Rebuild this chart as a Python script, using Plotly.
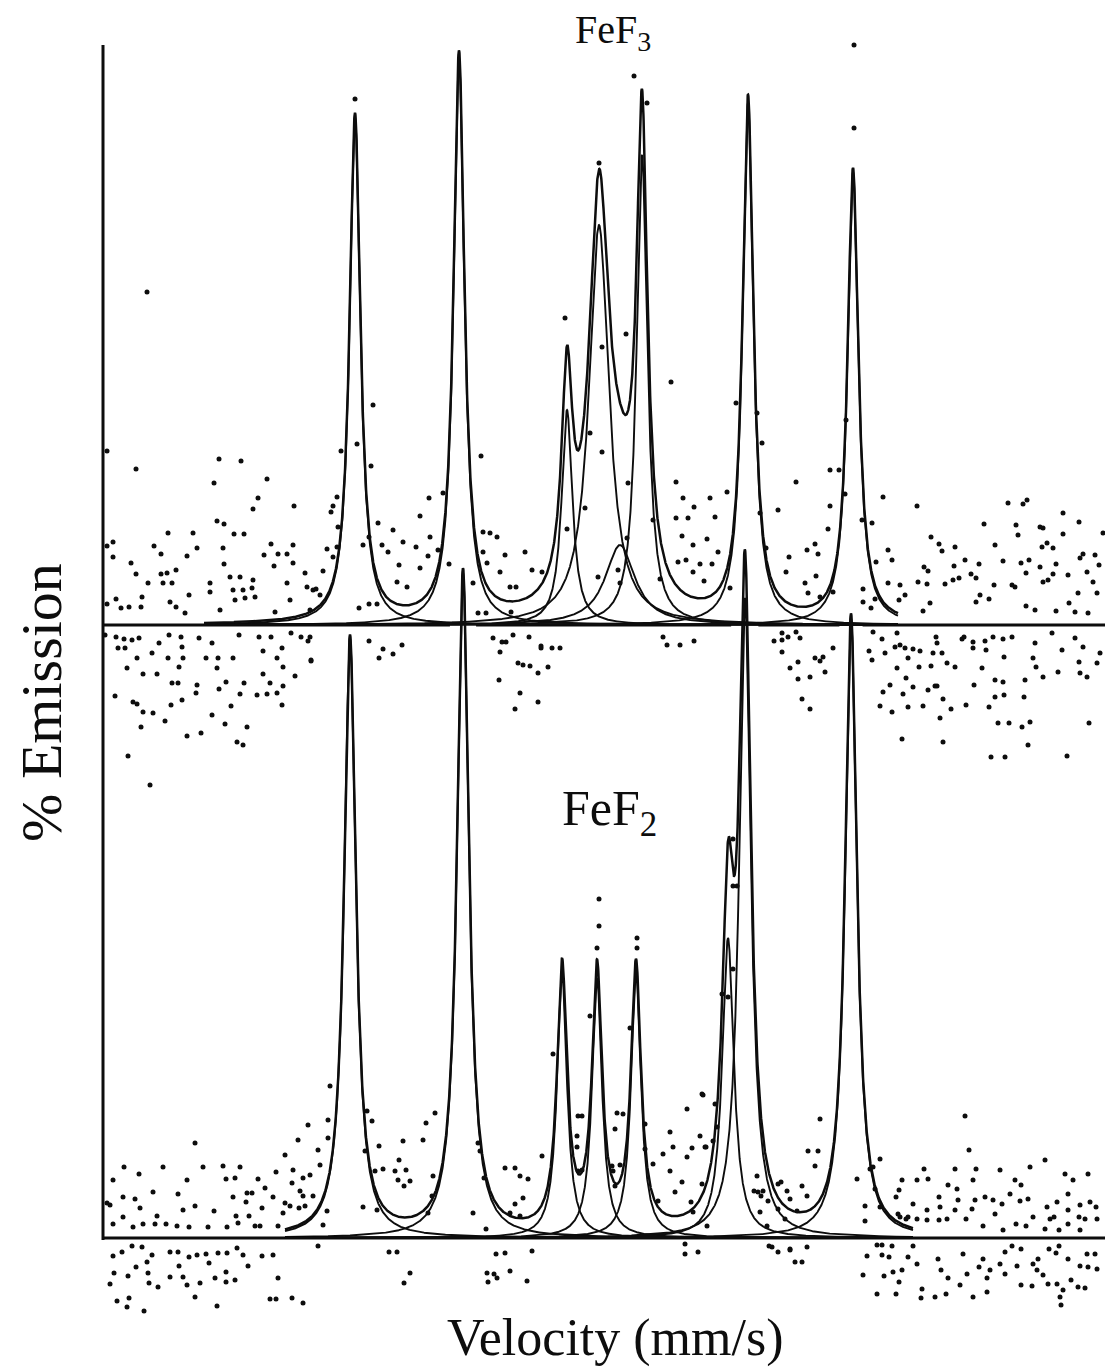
import numpy as np
import plotly.graph_objects as go

# ---------------------------------------------------------------------------
# Fitted Lorentzian lines: position (mm/s), amplitude (% emission), HWHM (mm/s)
# ---------------------------------------------------------------------------
fef3_pos = [-9.96, -5.80, -1.48, -0.20, 0.64, 1.52, 5.76, 9.96]
fef3_amp = [5.08, 5.67, 2.15, 4.00, 0.80, 4.70, 5.22, 4.53]
fef3_hwhm = [0.26, 0.26, 0.26, 0.48, 0.72, 0.26, 0.26, 0.26]
fef3_fit_range = [-16.0, 11.76]

fef2_pos = [-10.16, -5.64, -1.68, -0.28, 1.28, 4.96, 5.64, 9.88]
fef2_amp = [6.00, 6.65, 2.65, 2.60, 2.65, 3.00, 6.40, 6.20]
fef2_hwhm = [0.28, 0.28, 0.24, 0.24, 0.24, 0.28, 0.28, 0.28]
fef2_fit_range = [-12.76, 12.36]

# vertical offset of the FeF3 spectrum above the FeF2 one (% emission)
fef3_offset = 6.13

# ---------------------------------------------------------------------------
# Measured points (velocity mm/s, emission % relative to each baseline)
# ---------------------------------------------------------------------------
fef3_dot_v = [
    -19.88, -18.72, -15.40, -14.52, -15.60, -13.48, -13.84, -14.04, -12.40, -15.48,
    -15.20, -14.80, -14.40, -17.44, -16.44, -19.64, -19.88, -18.00, -16.28, -15.24,
    -13.32, -12.44, -17.72, -16.68, -13.60, -13.04, -12.68, -19.64, -18.92, -15.20,
    -13.20, -12.44, -18.72, -17.72, -17.48, -17.12, -17.64, -17.28, -18.24, -15.76,
    -14.96, -14.56, -14.04, -12.68, -11.88, -15.76, -14.84, -14.44, -14.08, -16.60,
    -18.48, -14.76, -14.36, -13.96, -12.56, -19.52, -19.88, -19.32, -19.00, -18.52,
    -17.36, -17.12, -16.76, -15.36, -13.16,
    -19.96, -19.52, -19.20, -18.88, -18.60, -17.80, -17.40, -16.92, -16.20, -15.68,
    -14.60, -13.80, -13.32, -12.52, -12.12, -11.84, -19.44, -19.16, -18.68, -18.08,
    -17.44, -16.88, -16.84, -15.92, -15.44, -14.84, -13.64, -12.88, -13.08, -11.72,
    -19.08, -18.44, -17.88, -17.00, -15.48, -13.64, -12.36, -12.84, -17.28, -17.04,
    -16.28, -15.12, -14.40, -13.36, -12.84, -15.40, -14.56, -13.88, -13.48, -13.08,
    -16.32, -19.56, -18.84, -18.68, -17.32, -16.88, -14.92, -12.88, -18.44, -18.04,
    -15.68, -17.56, -18.52, -15.16, -14.28, -16.12, -16.68, -14.68, -14.44, -19.04,
    -10.52, -10.68, -10.84, -10.92, -10.64, -10.68, -11.08, -10.84, -11.64, -11.36,
    -11.76, -9.88, -9.32, -9.40, -9.64, -9.04, -8.44, -8.88, -8.64, -8.04,
    -7.52, -7.36, -7.00, -8.20, -7.36, -8.28, -7.88, -6.96, -7.04, -6.64,
    -9.40, -9.08, -9.80, -6.44, -6.20, -4.92, -4.84, -4.56, -4.28, -4.84,
    -4.68, -5.04, -4.72,
    -9.40, -8.84, -8.44, -8.08, -9.00, -11.76, -11.72,
    -11.96, -11.52, -11.24,
    -5.24, -3.96, -3.16, -4.16, -3.76, -3.52, -2.88, -2.48, -3.72,
    -4.44, -4.08, -3.92, -3.64, -3.00, -2.52, -4.16, -3.44, -3.24, -2.96,
    -2.24, -2.64, -4.20, -3.36, -2.64, -3.56,
    1.20, 1.72, -0.20, -1.56, -0.08, 0.88, -0.56, -0.76, 2.68, 2.88,
    3.16, 3.60, 4.24, 2.88, 3.36, 3.12, 3.56, 4.12, 3.28, 3.84,
    4.32, 2.96, 3.56, 4.00, 1.96, 2.24, -1.48, 0.56, 0.64, -0.24,
    0.92, 0.96, -0.08,
    -2.52, -2.08, -1.76, 2.36, 2.52, 3.04, 3.60,
    6.32, 7.68, 6.96, 4.92, 4.44, 4.56, 5.04, 8.12, 8.44, 8.56,
    7.40, 7.28, 8.04, 8.48, 8.16, 9.16, 9.04, 8.96, 8.64, 9.64,
    11.16, 10.72, 11.36, 11.52, 10.88, 10.36, 10.36, 10.68, 10.84, 11.36,
    11.84, 11.80, 12.04, 12.52, 13.08, 13.40, 13.52, 12.80, 12.96, 12.56,
    12.92, 13.64, 13.04, 12.76, 14.04, 14.44, 14.20, 14.00, 15.00, 14.68,
    14.88, 15.20, 15.04, 15.40, 15.64, 15.60, 15.96, 16.32, 16.48, 16.56,
    16.76, 16.92, 16.16, 16.44, 16.68, 17.00, 16.88, 17.44, 17.56, 17.72,
    17.52, 17.96, 18.36, 18.36, 18.08, 17.44, 17.56, 17.76, 17.96, 18.56,
    19.00, 19.16, 19.04, 18.96, 19.32, 19.64, 19.80, 19.96, 19.56, 19.72,
    18.60, 18.84, 19.36, 18.08, 17.24, 16.88, 14.88, 13.96,
    6.80, 7.12, 7.12, 7.36, 7.68, 7.84, 7.12, 9.16, 7.44, 7.76,
    7.76, 8.24, 8.44, 8.64, 8.76, 8.84, 7.92, 8.24, 10.76, 11.12,
    10.60, 10.72, 11.24, 11.72, 11.84, 11.64, 12.04, 12.36, 11.72, 12.16,
    12.64, 12.60, 13.08, 13.28, 13.32, 13.24, 13.72, 14.04, 13.16, 13.52,
    14.32, 14.40, 14.76, 15.24, 15.56, 15.96, 16.32, 14.76, 15.28, 16.00,
    17.24, 17.92, 18.32, 18.84, 19.16, 19.84, 19.72, 19.00, 18.16, 17.56,
    17.16, 17.28, 16.84, 16.80, 15.64, 15.96, 15.12, 14.80, 14.48, 13.88,
    13.44, 13.32, 12.76, 12.16, 11.96, 12.36, 12.96, 11.52, 11.16, 11.44,
    11.04, 12.08, 13.56, 15.40, 15.64, 16.00, 15.76, 16.20, 16.72, 17.04,
    16.96, 19.40, 19.04, 19.32, 18.52, 15.48, 16.04, 13.56, 11.92,
    -18.28, -18.16, 10.00, -9.96, 10.00, 5.28, 6.12, 6.24, 9.04, 9.40,
    9.68, 10.32, 6.48, -9.24,
]
fef3_dot_y = [
    1.74, 1.56, 1.66, 1.64, 1.42, 1.46, 1.27, 1.16, 1.19, 1.04,
    1.01, 0.91, 0.91, 0.92, 0.92, 0.83, 0.79, 0.79, 0.77, 0.77,
    0.81, 0.80, 0.71, 0.69, 0.70, 0.71, 0.71, 0.68, 0.62, 0.61,
    0.59, 0.62, 0.51, 0.51, 0.52, 0.55, 0.42, 0.42, 0.42, 0.42,
    0.48, 0.48, 0.45, 0.42, 0.38, 0.33, 0.35, 0.35, 0.37, 0.30,
    0.28, 0.25, 0.27, 0.28, 0.25, 0.26, 0.21, 0.17, 0.18, 0.18,
    0.23, 0.18, 0.12, 0.15, 0.13,
    -0.10, -0.12, -0.14, -0.15, -0.13, -0.18, -0.10, -0.12, -0.13, -0.18,
    -0.10, -0.12, -0.12, -0.08, -0.12, -0.16, -0.23, -0.23, -0.33, -0.28,
    -0.33, -0.22, -0.33, -0.33, -0.33, -0.33, -0.26, -0.23, -0.33, -0.36,
    -0.43, -0.49, -0.49, -0.42, -0.43, -0.49, -0.51, -0.42, -0.58, -0.58,
    -0.60, -0.57, -0.58, -0.58, -0.61, -0.64, -0.69, -0.70, -0.69, -0.68,
    -0.68, -0.71, -0.77, -0.79, -0.80, -0.75, -0.81, -0.80, -0.87, -0.88,
    -0.90, -0.96, -1.02, -0.99, -1.02, -1.08, -1.11, -1.17, -1.20, -1.31,
    1.74, 1.28, 1.19, 1.13, 0.98, 0.78, 0.76, 0.68, 0.35, 0.30,
    0.15, 1.81, 1.59, 0.88, 0.80, 1.02, 0.95, 0.80, 0.73, 0.83,
    0.78, 1.09, 1.27, 0.60, 0.57, 0.43, 0.38, 0.88, 0.69, 0.75,
    0.21, 0.21, 0.17, 1.32, 0.61, 1.69, 0.93, 0.92, 0.88, 0.73,
    0.62, 0.12, 0.12,
    -0.16, -0.24, -0.29, -0.20, -0.33, -0.12, -0.35,
    0.52, 0.36, 0.54,
    0.42, 0.70, 0.73, 0.53, 0.38, 0.38, 0.55, 0.53, 0.13,
    -0.13, -0.17, -0.17, -0.10, -0.12, -0.21, -0.27, -0.38, -0.40, -0.41,
    -0.42, -0.48, -0.55, -0.68, -0.77, -0.84,
    5.49, 5.22, 4.62, 3.07, 2.78, 2.91, 1.92, 1.17, 2.43, 1.43,
    1.27, 1.18, 1.27, 1.07, 1.07, 0.89, 0.80, 0.86, 0.65, 0.61,
    0.61, 0.63, 0.53, 0.44, 1.05, 0.46, 0.96, 0.55, 0.42, 0.48,
    0.87, 1.42, 1.73,
    -0.23, -0.23, -0.23, -0.12, -0.20, -0.20, -0.16,
    1.82, 1.43, 1.15, 1.33, 1.08, 0.73, 0.37, 0.75, 0.81, 0.71,
    0.68, 0.53, 0.42, 0.49, 0.32, 0.33, 1.19, 0.96, 0.28, 1.31,
    1.28, 1.02, 0.75, 0.65, 0.63, 0.36, 0.23, 0.17, 0.26, 0.42,
    0.40, 0.25, 0.30, 1.19, 0.88, 0.81, 0.74, 0.58, 0.54, 0.43,
    0.41, 0.41, 0.22, 0.14, 0.78, 0.65, 0.47, 0.59, 0.61, 0.51,
    0.47, 1.01, 0.30, 0.26, 0.80, 0.40, 0.64, 0.40, 1.00, 0.90,
    1.21, 1.25, 1.22, 0.38, 0.62, 0.65, 0.52, 0.98, 0.97, 0.82,
    0.78, 0.77, 1.12, 0.91, 0.61, 0.58, 0.43, 0.45, 0.51, 0.50,
    1.03, 0.71, 0.67, 0.32, 0.53, 0.70, 0.60, 0.92, 0.43, 0.32,
    0.22, 0.13, 0.12, 0.14, 0.15, 0.19, 0.23, 0.45,
    -0.16, -0.15, -0.08, -0.12, -0.07, -0.13, -0.27, -0.23, -0.43, -0.37,
    -0.54, -0.52, -0.33, -0.36, -0.32, -0.47, -0.74, -0.84, -0.07, -0.14,
    -0.26, -0.35, -0.28, -0.08, -0.20, -0.22, -0.23, -0.24, -0.43, -0.33,
    -0.26, -0.42, -0.41, -0.12, -0.18, -0.61, -0.38, -0.42, -0.28, -0.28,
    -0.14, -0.12, -0.17, -0.16, -0.12, -0.14, -0.12, -0.23, -0.25, -0.32,
    -0.18, -0.08, -0.25, -0.13, -0.22, -0.28, -0.38, -0.37, -0.47, -0.52,
    -0.33, -0.42, -0.55, -0.72, -0.55, -0.57, -0.43, -0.60, -0.80, -0.84,
    -0.93, -0.61, -0.81, -0.82, -0.69, -0.62, -0.65, -0.87, -0.67, -0.60,
    -0.81, -0.53, -0.74, -0.82, -0.72, -0.70, -0.98, -0.98, -1.02, -0.97,
    -1.20, -0.98, -0.48, -0.52, -1.31, -1.32, -1.32, -1.17, -1.14,
    3.33, -1.60, 5.80, 5.26, 4.97, 2.22, 2.12, 1.12, 1.55, 1.55,
    2.05, 1.05, 0.77, 2.20,
]

fef2_dot_v = [
    -19.20, -19.64, -18.60, -17.64, -16.36, -16.04, -15.24, -14.56, -16.68, -15.12,
    -14.76, -19.24, -18.76, -18.04, -17.04, -18.56, -16.84, -16.36, -19.76, -15.60,
    -14.84, -14.28, -14.08, -14.32, -13.84, -13.56, -13.24, -13.12, -13.68, -14.72,
    -14.20, -13.96, -19.24, -19.64, -18.84, -18.44, -17.96, -17.88, -17.52, -17.08,
    -16.60, -15.84, -15.08, -14.64, -13.76, -19.88, -12.76, -12.24, -11.84, -12.44,
    -12.48, -12.04, -11.76, -12.76, -12.56, -12.16, -12.04, -12.84, -13.04, -12.20,
    -11.96, -11.36, -11.44, -11.64, -11.08, -11.24, -11.04, -10.96, -11.04, -9.48,
    -9.28, -9.00, -9.56, -8.84, -9.16, -8.36, -8.04, -7.24, -8.20, -7.92,
    -8.24, -7.76, -8.00, -9.64, -9.08, -7.04, -7.12, -6.76, -6.84, -6.88,
    -5.04, -4.96, -4.80, -5.24, -4.72,
    -19.64, -19.28, -18.88, -18.48, -18.08, -19.60, -19.04, -18.28, -18.72, -18.24,
    -19.76, -17.84, -18.20, -19.48, -19.00, -19.08, -18.40, -17.36, -17.04, -17.36,
    -16.84, -16.68, -16.28, -15.92, -15.80, -16.16, -15.56, -15.12, -15.12, -15.44,
    -15.08, -14.76, -14.68, -14.44, -14.24, -13.68, -13.24, -16.36, -15.48, -13.04,
    -13.36, -13.12, -12.48, -12.04, -16.60, -17.00, -11.44, -8.60, -8.28, -7.76,
    -8.00, -4.32, -4.40, -4.64,
    -0.20, -0.28, -0.20, 1.32, 1.32, -0.56, 1.04, -2.04, 5.16, 5.16,
    5.32, 5.16, 4.72, 4.96, 3.92, 3.32, 2.64, 2.76, 2.36, 3.52,
    3.84, 4.04, 3.32, 2.64, 3.12, 1.96, 2.16, 2.84, 3.48, 3.56,
    3.92, 4.12, 4.36, 4.52, 4.44, -3.96, -3.56, -3.36, -3.04, -3.24,
    -3.56, -3.76, -3.36, -2.48, -1.04, -0.88, -1.08, -1.08, 0.52, 0.44,
    0.76, 0.32, 0.64, 0.36, 0.44, -1.04, -0.88, 1.64, 1.64, 6.12,
    6.16, 6.36, 6.56, 6.96, 7.32, 7.44, 7.72, 6.96, 7.24,
    -3.96, -2.88, 3.24, 3.24, 3.76, 6.72, 6.96, 7.44, -4.68, -4.28,
    -3.76, -3.08,
    14.44, 14.60, 14.88, 14.04, 15.84, 17.04, 17.64, 18.44, 19.36, 12.80,
    12.96, 11.92, 12.52, 11.80, 11.68, 11.04, 10.64, 10.84, 10.44, 11.04,
    10.44, 11.84, 12.16, 12.52, 12.92, 13.40, 13.76, 14.12, 14.16, 13.44,
    13.72, 14.04, 14.48, 14.72, 14.76, 14.84, 15.24, 15.56, 15.16, 15.64,
    15.92, 15.96, 16.44, 16.68, 16.24, 16.64, 16.96, 16.48, 16.88, 17.16,
    17.72, 17.84, 18.00, 18.12, 17.64, 18.20, 18.56, 18.56, 18.76, 19.04,
    19.00, 18.56, 19.24, 19.44, 19.68, 19.04, 19.72, 13.40, 12.36, 12.92,
    11.76, 12.08, 10.12, 10.76, 3.96, 4.08, 7.08, 7.92, 8.16, 8.56,
    8.44, 8.64, 6.24, 6.00, 6.28, 8.12, 6.52,
    6.60, 7.44, 7.64, 7.92, 8.12, 10.52, 10.36, 10.92, 11.12, 11.52,
    11.12, 11.40, 11.20, 11.56, 11.92, 10.92, 11.68, 11.80, 12.36, 12.16,
    12.52, 12.72, 12.68, 13.24, 13.68, 13.36, 13.76, 14.24, 14.36, 14.52,
    14.76, 15.00, 15.16, 15.32, 15.32, 15.84, 16.04, 16.32, 16.68, 16.52,
    16.68, 17.12, 17.16, 17.32, 17.36, 17.56, 17.80, 18.20, 18.12, 17.76,
    18.36, 18.24, 18.28, 18.68, 18.96, 19.24, 19.32, 19.64, 19.36, 19.72,
    19.04, 18.56, 18.08, 16.04, 15.44, 13.48,
]
fef2_dot_y = [
    0.71, 0.58, 0.64, 0.71, 0.95, 0.71, 0.72, 0.71, 0.58, 0.59,
    0.60, 0.41, 0.39, 0.46, 0.44, 0.30, 0.28, 0.32, 0.33, 0.27,
    0.41, 0.45, 0.45, 0.36, 0.59, 0.50, 0.41, 0.66, 0.30, 0.22,
    0.22, 0.12, 0.21, 0.14, 0.11, 0.14, 0.14, 0.22, 0.14, 0.12,
    0.11, 0.11, 0.11, 0.15, 0.12, 0.35, 0.83, 0.98, 1.13, 0.68,
    0.55, 0.60, 0.63, 0.35, 0.32, 0.47, 0.42, 0.25, 0.12, 0.30,
    0.32, 0.73, 0.88, 0.42, 0.27, 0.13, 1.00, 1.52, 1.18, 1.27,
    1.17, 0.92, 0.87, 0.69, 0.67, 0.67, 0.97, 0.98, 0.78, 0.68,
    0.58, 0.57, 0.52, 0.31, 0.28, 0.25, 1.15, 1.25, 0.62, 0.42,
    0.95, 0.87, 0.60, 0.25, 0.09,
    -0.18, -0.14, -0.08, -0.09, -0.17, -0.35, -0.38, -0.24, -0.29, -0.35,
    -0.46, -0.49, -0.45, -0.63, -0.60, -0.69, -0.73, -0.14, -0.14, -0.39,
    -0.39, -0.47, -0.17, -0.16, -0.25, -0.45, -0.40, -0.34, -0.44, -0.15,
    -0.15, -0.42, -0.10, -0.17, -0.28, -0.18, -0.17, -0.59, -0.68, -0.40,
    -0.61, -0.61, -0.60, -0.65, -0.19, -0.28, -0.08, -0.14, -0.14, -0.35,
    -0.45, -0.16, -0.36, -0.44,
    3.39, 2.90, 3.12, 3.00, 2.90, 2.22, 2.10, 1.84, 3.99, 3.52,
    3.52, 2.69, 2.44, 2.41, 1.44, 1.29, 1.06, 0.91, 0.84, 0.90,
    1.02, 0.91, 0.81, 0.67, 0.56, 0.74, 0.37, 0.46, 0.36, 0.26,
    0.54, 0.12, 0.97, 1.11, 1.34, 0.70, 0.70, 0.62, 0.59, 0.40,
    0.34, 0.25, 0.22, 0.82, 1.22, 1.22, 1.02, 0.91, 1.25, 1.09,
    1.24, 0.72, 0.73, 0.67, 0.52, 0.67, 0.68, 0.89, 1.14, 0.62,
    0.46, 0.47, 0.37, 0.54, 0.47, 0.39, 0.27, 0.29, 0.19,
    -0.15, -0.13, -0.06, -0.16, -0.14, -0.09, -0.14, -0.11, -0.35, -0.40,
    -0.33, -0.43,
    1.22, 0.88, 0.69, 0.69, 0.68, 0.71, 0.78, 0.64, 0.64, 0.69,
    0.59, 0.58, 0.58, 0.48, 0.41, 0.79, 0.69, 0.49, 0.32, 0.31,
    0.17, 0.21, 0.21, 0.19, 0.28, 0.41, 0.53, 0.49, 0.38, 0.31,
    0.19, 0.28, 0.19, 0.29, 0.58, 0.38, 0.41, 0.38, 0.12, 0.24,
    0.34, 0.08, 0.58, 0.53, 0.44, 0.37, 0.39, 0.14, 0.12, 0.21,
    0.31, 0.19, 0.21, 0.36, 0.09, 0.08, 0.44, 0.28, 0.58, 0.33,
    0.21, 0.14, 0.19, 0.36, 0.31, 0.08, 0.19, 0.18, 0.34, 0.18,
    0.24, 0.19, 0.59, 0.71, 1.43, 0.91, 0.56, 0.52, 0.87, 0.87,
    0.72, 1.19, 0.26, 0.47, 0.42, 0.42, 0.12,
    -0.08, -0.12, -0.24, -0.24, -0.09, -0.18, -0.37, -0.07, -0.07, -0.08,
    -0.17, -0.19, -0.38, -0.34, -0.32, -0.56, -0.56, -0.44, -0.08, -0.19,
    -0.26, -0.51, -0.60, -0.59, -0.56, -0.21, -0.40, -0.47, -0.16, -0.36,
    -0.59, -0.29, -0.21, -0.40, -0.54, -0.26, -0.36, -0.08, -0.11, -0.28,
    -0.47, -0.48, -0.26, -0.32, -0.21, -0.37, -0.11, -0.08, -0.46, -0.46,
    -0.52, -0.59, -0.67, -0.42, -0.49, -0.50, -0.16, -0.16, -0.29, -0.31,
    -0.28, -0.21, -0.15, -0.14, -0.32, -0.32,
]

# ---------------------------------------------------------------------------
X_RANGE = [-20.04, 20.04]
Y_RANGE = [-1.33, 12.38]
INK = "#0d0d0d"
SERIF = "Liberation Serif, Times New Roman, serif"


def lorentzian(v, center, amp, hwhm):
    return amp / (1.0 + ((v - center) / hwhm) ** 2)


def spectrum(v, pos, amp, hwhm):
    lines = [lorentzian(v, p, a, w) for p, a, w in zip(pos, amp, hwhm)]
    return lines, np.sum(lines, axis=0)


v3 = np.linspace(fef3_fit_range[0], fef3_fit_range[1], 4000)
v2 = np.linspace(fef2_fit_range[0], fef2_fit_range[1], 4000)
lines3, total3 = spectrum(v3, fef3_pos, fef3_amp, fef3_hwhm)
lines2, total2 = spectrum(v2, fef2_pos, fef2_amp, fef2_hwhm)

fig = go.Figure()


def add_line(x, y, color=INK, width=2.0):
    fig.add_trace(go.Scatter(x=x, y=y, mode="lines", hoverinfo="skip",
                             line=dict(color=color, width=width, shape="linear")))


def add_points(x, y):
    fig.add_trace(go.Scatter(x=x, y=y, mode="markers", hoverinfo="skip",
                             marker=dict(color=INK, size=5, line=dict(width=0))))


# white halo where the tall FeF2 peaks cut through the FeF3 baseline
halo = np.where(np.abs(total2 - fef3_offset) < 0.35, total2, np.nan)
add_line(v2, halo, color="white", width=22)

# FeF3: individual lines, total fit, data points
for comp in lines3:
    add_line(v3, comp + fef3_offset, width=1.9)
add_line(v3, total3 + fef3_offset, width=2.5)
add_points(fef3_dot_v, np.array(fef3_dot_y) + fef3_offset)

# FeF2: individual lines, total fit, data points
for comp in lines2:
    add_line(v2, comp, width=1.9)
add_line(v2, total2, width=2.5)
add_points(fef2_dot_v, fef2_dot_y)

shapes = [
    # baselines of the two spectra
    dict(type="line", xref="paper", yref="y", x0=0, x1=1, y0=fef3_offset, y1=fef3_offset,
         line=dict(color=INK, width=3), layer="below"),
    dict(type="line", xref="paper", yref="y", x0=0, x1=1, y0=0, y1=0,
         line=dict(color=INK, width=3), layer="below"),
    # vertical axis line
    dict(type="line", xref="paper", yref="y", x0=0, x1=0, y0=-0.02, y1=11.93,
         line=dict(color=INK, width=3), layer="above"),
]

annotations = [
    dict(x=0.36, y=12.06, xref="x", yref="y", text="FeF<sub>3</sub>", showarrow=False,
         font=dict(family=SERIF, size=40, color=INK), xanchor="center", yanchor="middle"),
    dict(x=0.20, y=4.26, xref="x", yref="y", text="FeF<sub>2</sub>", showarrow=False,
         font=dict(family=SERIF, size=50, color=INK), xanchor="center", yanchor="middle"),
    dict(x=-0.062, y=5.36, xref="paper", yref="y", text="% Emission", showarrow=False,
         textangle=-90, font=dict(family=SERIF, size=58, color=INK),
         xanchor="center", yanchor="middle"),
    dict(x=0.44, y=-1.00, xref="x", yref="y", text="Velocity (mm/s)", showarrow=False,
         font=dict(family=SERIF, size=52, color=INK), xanchor="center", yanchor="middle"),
]

fig.update_layout(
    width=1109, height=1371,
    margin=dict(l=103, r=4, t=0, b=0),
    paper_bgcolor="white", plot_bgcolor="white",
    showlegend=False,
    xaxis=dict(range=X_RANGE, visible=False, fixedrange=True),
    yaxis=dict(range=Y_RANGE, visible=False, fixedrange=True),
    shapes=shapes,
    annotations=annotations,
)

fig.write_html("out.html")
